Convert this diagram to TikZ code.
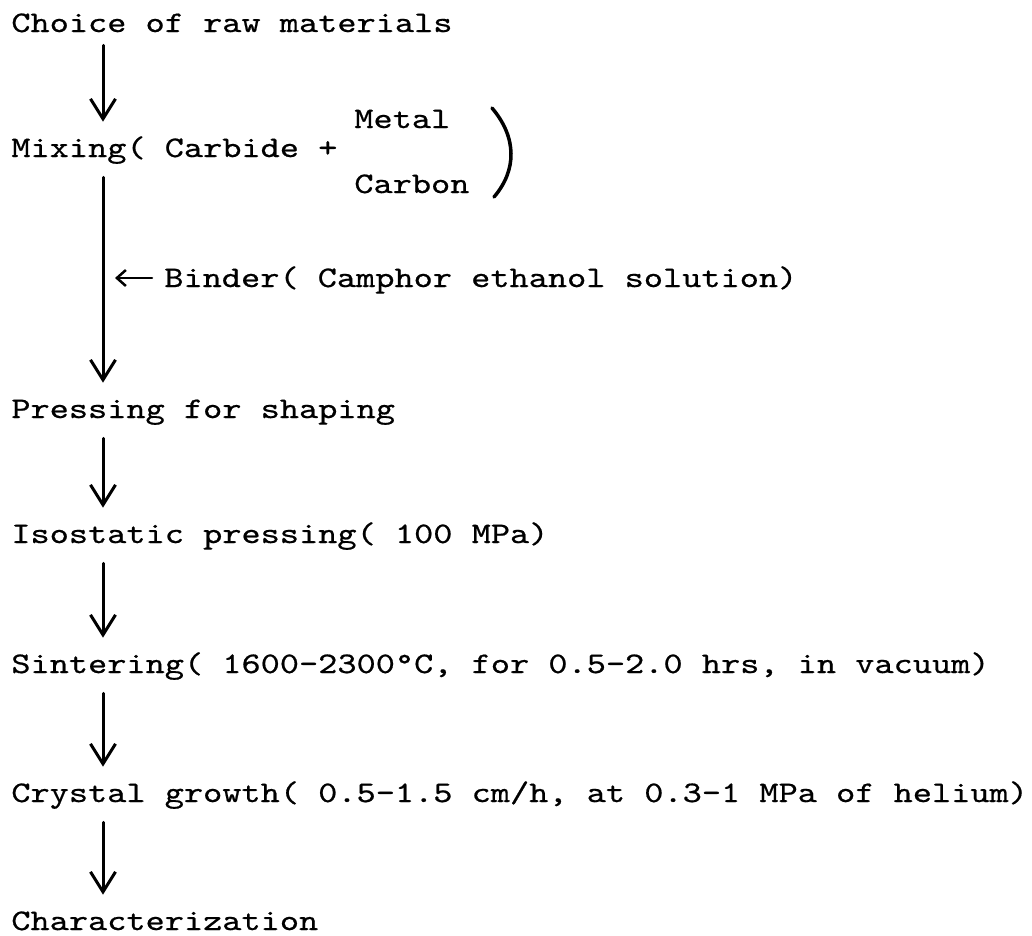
\documentclass[tikz,border=0pt]{standalone}
\usepackage{fontspec}
\setmonofont{lmmono10-regular.otf}[FakeStretch=1.223, FakeBold=0.6]
\usetikzlibrary{arrows.meta, calc}

\begin{document}
\begin{tikzpicture}[>={Straight Barb[length=0.4cm,width=0.5cm]}, line cap=round, line join=round,
	font=\ttfamily\fontsize{17}{20}\selectfont,
	stage/.style={anchor=base west, inner sep=0pt, text height=0.36cm, text depth=0pt},
	flow/.style={->, line width=0.06cm, shorten <=0.4cm, shorten >=0.34cm},
	feed/.style={-{Straight Barb[length=0.18cm,width=0.32cm]}, line width=0.05cm,
		shorten <=0.24cm, shorten >=0.24cm}]
	
	\useasboundingbox (0,0) rectangle (20.64,-18.70);
	
	%========================
	% process steps
	%========================
	\node[stage] (choice) at (0.22,-0.64) {Choice of raw materials};
	\node[stage] (mixing) at (0.22,-3.14) {Mixing( Carbide +};
	\node[stage] (metal) at (7.08,-2.56) {Metal};
	\node[stage] (carbon) at (7.08,-3.86) {Carbon};
	\node[stage] (binder) at (3.28,-5.74) {Binder( Camphor ethanol solution)};
	\node[stage] (pressing) at (0.22,-8.36) {Pressing for shaping};
	\node[stage] (isostatic) at (0.22,-10.86) {Isostatic pressing( 100 MPa)};
	\node[stage] (sintering) at (0.22,-13.46) {Sintering( 1600-2300°C, for 0.5-2.0 hrs, in vacuum)};
	\node[stage] (growth) at (0.22,-16.04) {Crystal growth( 0.5-1.5 cm/h, at 0.3-1 MPa of helium)};
	\node[stage] (charact) at (0.22,-18.60) {Characterization};
	
	% closing bracket round metal / carbon
	\draw[line width=0.07cm] (9.84,-2.16) .. controls (10.34,-2.75) and (10.34,-3.4) .. (9.88,-3.94);
	
	%========================
	% arrows down the left
	%========================
	\coordinate (ax) at (2.06,0);
	\draw[flow, shorten <=0.26cm] (choice.south -| ax) -- (mixing.north -| ax);
	\draw[flow] (mixing.south -| ax) -- (pressing.north -| ax);
	\draw[flow] (pressing.south -| ax) -- (isostatic.north -| ax);
	\draw[flow] (isostatic.south -| ax) -- (sintering.north -| ax);
	\draw[flow] (sintering.south -| ax) -- (growth.north -| ax);
	\draw[flow] (growth.south -| ax) -- (charact.north -| ax);
	
	% binder fed into the mixing line
	\draw[feed] (binder.west) -- (binder.west -| ax);
	
\end{tikzpicture}
\end{document}
